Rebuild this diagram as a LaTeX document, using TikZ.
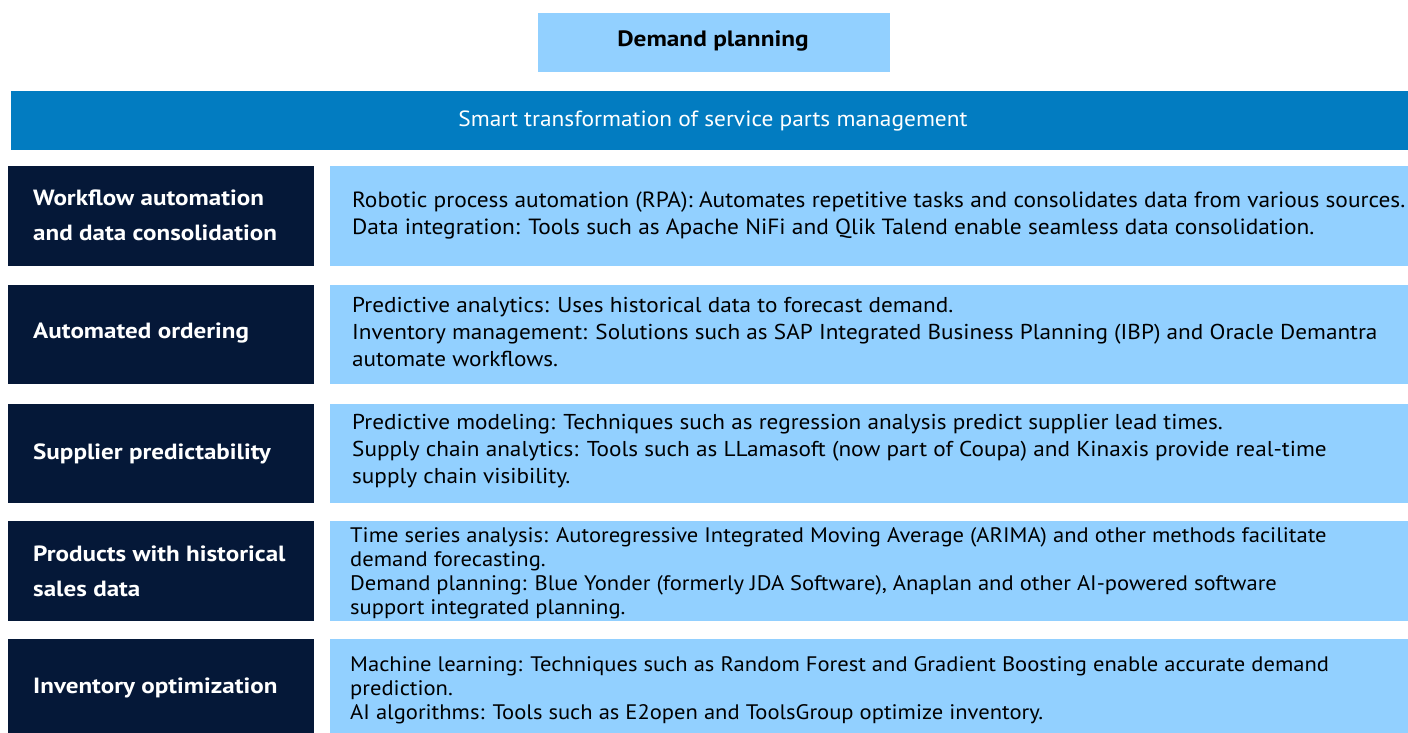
\documentclass[tikz,border=0pt]{standalone}
\usepackage{fontspec}
\setmainfont{PT Sans}
\newfontfamily\fA[FakeStretch=1.063]{PT Sans}
\newfontfamily\fB[FakeStretch=1.08]{PT Sans}
\newfontfamily\fC[FakeStretch=1.075]{PT Sans}
\newfontfamily\fL[FakeStretch=1.14]{PT Sans}
\definecolor{lightbox}{HTML}{92D0FF}
\definecolor{bandblue}{HTML}{027CC1}
\definecolor{navy}{HTML}{051838}
\tikzset{
  lbox/.style={fill=navy, draw=none},
  rbox/.style={fill=lightbox, draw=none},
  labeltext/.style={anchor=west, inner sep=0pt, text=white, align=left, font=\fL\fontsize{22}{35}\selectfont\bfseries},
  descA/.style={anchor=west, inner sep=0pt, text=black, align=left, font=\fA\fontsize{22}{27}\selectfont},
  descB/.style={anchor=west, inner sep=0pt, text=black, align=left, font=\fB\fontsize{21.5}{27}\selectfont},
  descC/.style={anchor=west, inner sep=0pt, text=black, align=left, font=\fC\fontsize{21}{24}\selectfont},
}
\begin{document}
\begin{tikzpicture}[x=1pt,y=-1pt]
\useasboundingbox (0,0) rectangle (1408,733);
% header
\fill[lightbox] (538,13) rectangle (890,72);
\node[inner sep=0pt, font=\fL\fontsize{22.2}{26}\selectfont\bfseries] (title) at (713,41) {Demand planning};
% band
\fill[bandblue] (11,91) rectangle (1408,150);
\node[inner sep=0pt, text=white, font=\fA\fontsize{22}{26}\selectfont] (band) at (713,121) {Smart transformation of service parts management};
% rows
\fill[lbox] (8,166) rectangle (314,266);
\fill[rbox] (330,166) rectangle (1408,266);
\fill[lbox] (8,285) rectangle (314,384);
\fill[rbox] (330,285) rectangle (1408,384);
\fill[lbox] (8,404) rectangle (314,503);
\fill[rbox] (330,404) rectangle (1408,503);
\fill[lbox] (8,521) rectangle (314,621);
\fill[rbox] (330,521) rectangle (1408,621);
\fill[lbox] (8,639) rectangle (314,733);
\fill[rbox] (330,639) rectangle (1408,733);
% labels
\node[labeltext] (l1) at (33,215) {Workflow automation\\and data consolidation};
\node[labeltext] (l2) at (33,333) {Automated ordering};
\node[labeltext] (l3) at (33,454) {Supplier predictability};
\node[labeltext] (l4) at (33,571) {Products with historical\\sales data};
\node[labeltext] (l5) at (33,688) {Inventory optimization};
% descriptions
\node[descA] (d1) at (352,215) {Robotic process automation (RPA): Automates repetitive tasks and consolidates data from various sources.\\Data integration: Tools such as Apache NiFi and Qlik Talend enable seamless data consolidation.};
\node[descB] (d2) at (352,332) {Predictive analytics: Uses historical data to forecast demand.\\Inventory management: Solutions such as SAP Integrated Business Planning (IBP) and Oracle Demantra\\automate workflows.};
\node[descB] (d3) at (352,451) {Predictive modeling: Techniques such as regression analysis predict supplier lead times.\\Supply chain analytics: Tools such as LLamasoft (now part of Coupa) and Kinaxis provide real-time\\supply chain visibility.};
\node[descC] (d4) at (350,573) {Time series analysis: Autoregressive Integrated Moving Average (ARIMA) and other methods facilitate\\demand forecasting.\\Demand planning: Blue Yonder (formerly JDA Software), Anaplan and other AI-powered software\\support integrated planning.};
\node[descC] (d5) at (350,690) {Machine learning: Techniques such as Random Forest and Gradient Boosting enable accurate demand\\prediction.\\AI algorithms: Tools such as E2open and ToolsGroup optimize inventory.};
\end{tikzpicture}
\end{document}
